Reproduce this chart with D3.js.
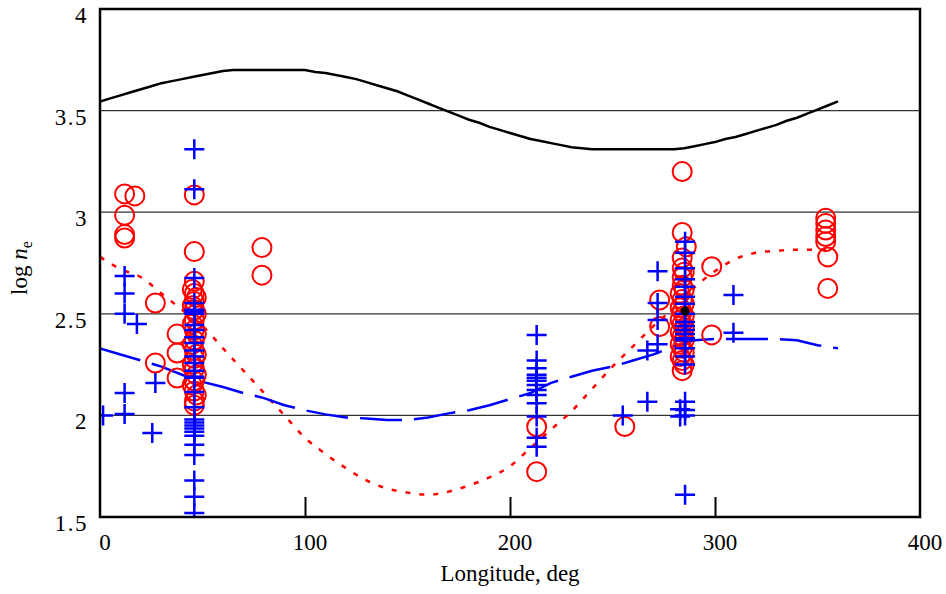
<!DOCTYPE html>
<html>
<head>
<meta charset="utf-8">
<script src="https://cdn.jsdelivr.net/npm/d3@7"></script>
<style>
  body { margin: 0; background: #fff; }
  svg { display: block; font-family: "Liberation Serif", "Times New Roman", serif; }
</style>
</head>
<body>
<div id="chart"></div>
<script>
// axis ticks
const xTicks = [0, 100, 200, 300, 400];
const yTicks = [1.5, 2, 2.5, 3, 3.5, 4];
const gridVals = [2, 2.5, 3, 3.5];

// black model curve (every 5 deg)
const blackLon = [0, 5, 10, 15, 20, 25, 30, 35, 40, 45, 50, 55, 60, 65, 70, 75, 80, 85, 90, 95, 100,
  105, 110, 115, 120, 125, 130, 135, 140, 145, 150, 155, 160, 165, 170, 175, 180, 185, 190, 195, 200,
  205, 210, 215, 220, 225, 230, 235, 240, 245, 250, 255, 260, 265, 270, 275, 280, 285, 290, 295, 300,
  305, 310, 315, 320, 325, 330, 335, 340, 345, 350, 355, 360];
const blackVal = [3.545, 3.56, 3.575, 3.59, 3.605, 3.62, 3.635, 3.645, 3.655, 3.665, 3.675, 3.685, 3.695, 3.70, 3.70, 3.70, 3.70, 3.70, 3.70, 3.70, 3.70,
  3.69, 3.685, 3.675, 3.665, 3.655, 3.64, 3.625, 3.61, 3.595, 3.575, 3.555, 3.535, 3.515, 3.495, 3.475, 3.455, 3.44, 3.42, 3.405, 3.39,
  3.375, 3.36, 3.35, 3.34, 3.33, 3.32, 3.315, 3.31, 3.31, 3.31, 3.31, 3.31, 3.31, 3.31, 3.31, 3.31, 3.315, 3.325, 3.335, 3.345,
  3.36, 3.37, 3.385, 3.40, 3.415, 3.43, 3.45, 3.465, 3.485, 3.505, 3.525, 3.545];

// red dotted and blue dashed curves (every 10 deg)
const lineLon = [0, 10, 20, 30, 40, 50, 60, 70, 80, 90, 100, 110, 120, 130, 140, 150, 160, 170, 180,
  190, 200, 210, 220, 230, 240, 250, 260, 270, 280, 290, 300, 310, 320, 330, 340, 350, 355];
const redVal = [2.78, 2.72, 2.68, 2.60, 2.52, 2.44, 2.33, 2.22, 2.11, 2.00, 1.89, 1.81, 1.74, 1.68, 1.64, 1.62, 1.61, 1.625, 1.655,
  1.695, 1.75, 1.84, 1.93, 2.02, 2.13, 2.24, 2.34, 2.44, 2.53, 2.63, 2.71, 2.77, 2.80, 2.81, 2.815, 2.815, 2.815];
const blueLon = [0, 10, 20, 30, 40, 50, 60, 70, 80, 90, 100, 110, 120, 130, 140, 150, 160, 170, 180,
  190, 200, 210, 220, 230, 240, 250, 260, 270, 280, 290, 300, 310, 320, 330, 340, 350, 360];
const blueVal = [2.33, 2.30, 2.27, 2.24, 2.20, 2.165, 2.14, 2.11, 2.085, 2.05, 2.025, 2.005, 1.99, 1.985, 1.977, 1.977, 1.99, 2.01, 2.025,
  2.05, 2.08, 2.11, 2.16, 2.19, 2.22, 2.24, 2.27, 2.30, 2.34, 2.37, 2.376, 2.376, 2.376, 2.376, 2.37, 2.345, 2.33];

// red circles
const circleLon = [12, 17, 12, 12, 12, 27, 37.6, 37.6, 27, 37.6,
  46, 46,
  46, 45, 46, 47, 46, 45, 46, 47, 46, 45, 46, 47, 46, 45, 46, 47, 46, 45, 46, 47, 46, 45, 46, 47, 46, 46,
  79, 79, 213, 213, 256, 273, 273, 298.4, 298.4,
  284, 284, 286, 284, 284, 285, 284, 284, 285, 283, 284, 285, 283, 284, 285, 283, 284, 285, 283, 284, 285, 283, 284, 285, 283, 284, 285, 284,
  354, 354, 354, 354, 354, 355, 355];
const circleVal = [3.09, 3.08, 2.985, 2.89, 2.873, 2.553, 2.40, 2.307, 2.258, 2.184,
  3.085, 2.806,
  2.66, 2.62, 2.60, 2.58, 2.56, 2.54, 2.52, 2.50, 2.47, 2.45, 2.42, 2.40, 2.37, 2.35, 2.32, 2.30, 2.28, 2.25, 2.23, 2.20, 2.17, 2.15, 2.12, 2.10, 2.07, 2.05,
  2.826, 2.69, 1.944, 1.723, 1.945, 2.568, 2.437, 2.732, 2.396,
  3.20, 2.90, 2.83, 2.775, 2.725, 2.705, 2.68, 2.64, 2.62, 2.60, 2.57, 2.55, 2.53, 2.51, 2.49, 2.47, 2.45, 2.43, 2.41, 2.39, 2.37, 2.35, 2.33, 2.31, 2.29, 2.27, 2.25, 2.22,
  2.97, 2.945, 2.912, 2.88, 2.855, 2.78, 2.625];

// blue crosses
const crossLon = [12, 12, 12, 18, 27, 12, 12, 1.5, 25.5,
  46, 46, 46, 46, 46, 46, 46, 46, 46, 46, 46, 46, 46, 46, 46, 46, 46, 46, 46, 46, 46, 46, 46, 46, 46, 46, 46, 46, 46, 46,
  213, 213, 213, 213, 213, 213, 213, 213, 213, 213, 213, 213, 213,
  255, 267, 267, 272, 272, 272, 272,
  285.4, 285.4, 285.4, 285.4, 285.4, 285.4, 285.4, 285.4, 285.4, 285.4, 285.4, 285.4, 285.4, 285.4, 285.4, 285.4, 285.4, 285.4, 285.4, 285.4, 285.4,
  283, 283, 309, 309];
const crossVal = [2.686, 2.60, 2.50, 2.45, 2.16, 2.11, 2.007, 2.00, 1.913,
  3.31, 3.113, 2.676, 2.553, 2.52, 2.51, 2.50, 2.445, 2.42, 2.385, 2.356, 2.32, 2.29, 2.258, 2.22, 2.19, 2.185, 2.115, 2.04, 1.98, 1.965, 1.95, 1.935, 1.92, 1.90, 1.855, 1.805, 1.68, 1.60, 1.52,
  2.396, 2.27, 2.232, 2.20, 2.185, 2.17, 2.15, 2.125, 2.10, 2.06, 1.995, 1.89, 1.846,
  2.0, 2.067, 2.32, 2.71, 2.553, 2.47, 2.35,
  2.855, 2.80, 2.724, 2.67, 2.633, 2.584, 2.55, 2.50, 2.46, 2.44, 2.42, 2.40, 2.38, 2.37, 2.33, 2.29, 2.25, 2.067, 2.027, 2.0, 1.61,
  2.03, 1.995, 2.593, 2.407];

// single black marker
const dotLon = [285.4];
const dotVal = [2.514];

var margin = { top: 9, right: 26, bottom: 77, left: 100 },
    width = 946 - margin.left - margin.right,
    height = 594 - margin.top - margin.bottom;

var svg = d3.select("#chart")
    .append("svg")
    .attr("width", 946)
    .attr("height", 594);

var g = svg.append("g")
    .attr("transform", "translate(" + margin.left + "," + margin.top + ")");

var x = d3.scaleLinear().domain([0, 400]).range([0, width]);
var y = d3.scaleLinear().domain([1.5, 4]).range([height, 0]);

g.append("clipPath").attr("id", "plotClip")
    .append("rect").attr("width", width).attr("height", height);

// horizontal grid lines
g.selectAll(".grid")
    .data(gridVals)
    .enter()
    .append("line")
    .attr("x1", 0).attr("x2", width)
    .attr("y1", function (d) { return y(d); })
    .attr("y2", function (d) { return y(d); })
    .style("stroke", "#333")
    .style("stroke-width", 1.3);

// inner tick marks on bottom axis
g.append("g")
    .attr("transform", "translate(0," + height + ")")
    .call(d3.axisBottom(x).tickValues([100, 200, 300]).tickSize(-20).tickFormat(""))
    .call(function (a) { a.select(".domain").remove(); })
    .selectAll("line").style("stroke", "#000").style("stroke-width", 2);

var plot = g.append("g").attr("clip-path", "url(#plotClip)");

var line = d3.line()
    .x(function (d) { return x(d[0]); })
    .y(function (d) { return y(d[1]); });

plot.append("path")
    .datum(d3.zip(blackLon, blackVal))
    .attr("d", line.curve(d3.curveLinear))
    .style("fill", "none")
    .style("stroke", "#000")
    .style("stroke-width", 2.5);

plot.append("path")
    .datum(d3.zip(lineLon, redVal))
    .attr("d", line.curve(d3.curveMonotoneX))
    .style("fill", "none")
    .style("stroke", "#ff0000")
    .style("stroke-width", 2.5)
    .style("stroke-dasharray", "5,9");

plot.append("path")
    .datum(d3.zip(blueLon, blueVal))
    .attr("d", line.curve(d3.curveLinear))
    .style("fill", "none")
    .style("stroke", "#0000ff")
    .style("stroke-width", 2.5)
    .style("stroke-dasharray", "42,12");

plot.selectAll(".circ")
    .data(d3.zip(circleLon, circleVal))
    .enter()
    .append("circle")
    .attr("cx", function (d) { return x(d[0]); })
    .attr("cy", function (d) { return y(d[1]); })
    .attr("r", 9.5)
    .style("fill", "none")
    .style("stroke", "#ff0000")
    .style("stroke-width", 2);

plot.selectAll(".cross")
    .data(d3.zip(crossLon, crossVal))
    .enter()
    .append("path")
    .attr("transform", function (d) { return "translate(" + x(d[0]) + "," + y(d[1]) + ")"; })
    .attr("d", "M-10,0H10M0,-10V10")
    .style("fill", "none")
    .style("stroke", "#0000ff")
    .style("stroke-width", 2.5);

plot.selectAll(".dot")
    .data(d3.zip(dotLon, dotVal))
    .enter()
    .append("circle")
    .attr("cx", function (d) { return x(d[0]); })
    .attr("cy", function (d) { return y(d[1]); })
    .attr("r", 4.5)
    .style("fill", "#000");

// frame
g.append("rect")
    .attr("width", width).attr("height", height)
    .style("fill", "none")
    .style("stroke", "#000")
    .style("stroke-width", 2.5);

// tick labels
g.selectAll(".ylab")
    .data(yTicks)
    .enter()
    .append("text")
    .attr("x", -12)
    .attr("y", function (d) { return y(d) + 14; })
    .attr("text-anchor", "end")
    .style("font-size", "23px")
    .style("letter-spacing", "1.5px")
    .text(function (d) { return d; });

g.selectAll(".xlab")
    .data(xTicks)
    .enter()
    .append("text")
    .attr("x", function (d) { return x(d) + 5; })
    .attr("y", height + 33)
    .attr("text-anchor", "middle")
    .style("font-size", "23px")
    .text(function (d) { return d; });

// axis titles
g.append("text")
    .attr("x", width / 2)
    .attr("y", height + 64)
    .attr("text-anchor", "middle")
    .style("font-size", "23px")
    .text("Longitude, deg");

var yt = svg.append("text")
    .attr("transform", "translate(27,268) rotate(-90)")
    .attr("text-anchor", "middle")
    .style("font-size", "23px");
yt.append("tspan").text("log ");
yt.append("tspan").style("font-style", "italic").text("n");
yt.append("tspan").attr("dy", 5).style("font-size", "16px").text("e");
</script>
</body>
</html>
